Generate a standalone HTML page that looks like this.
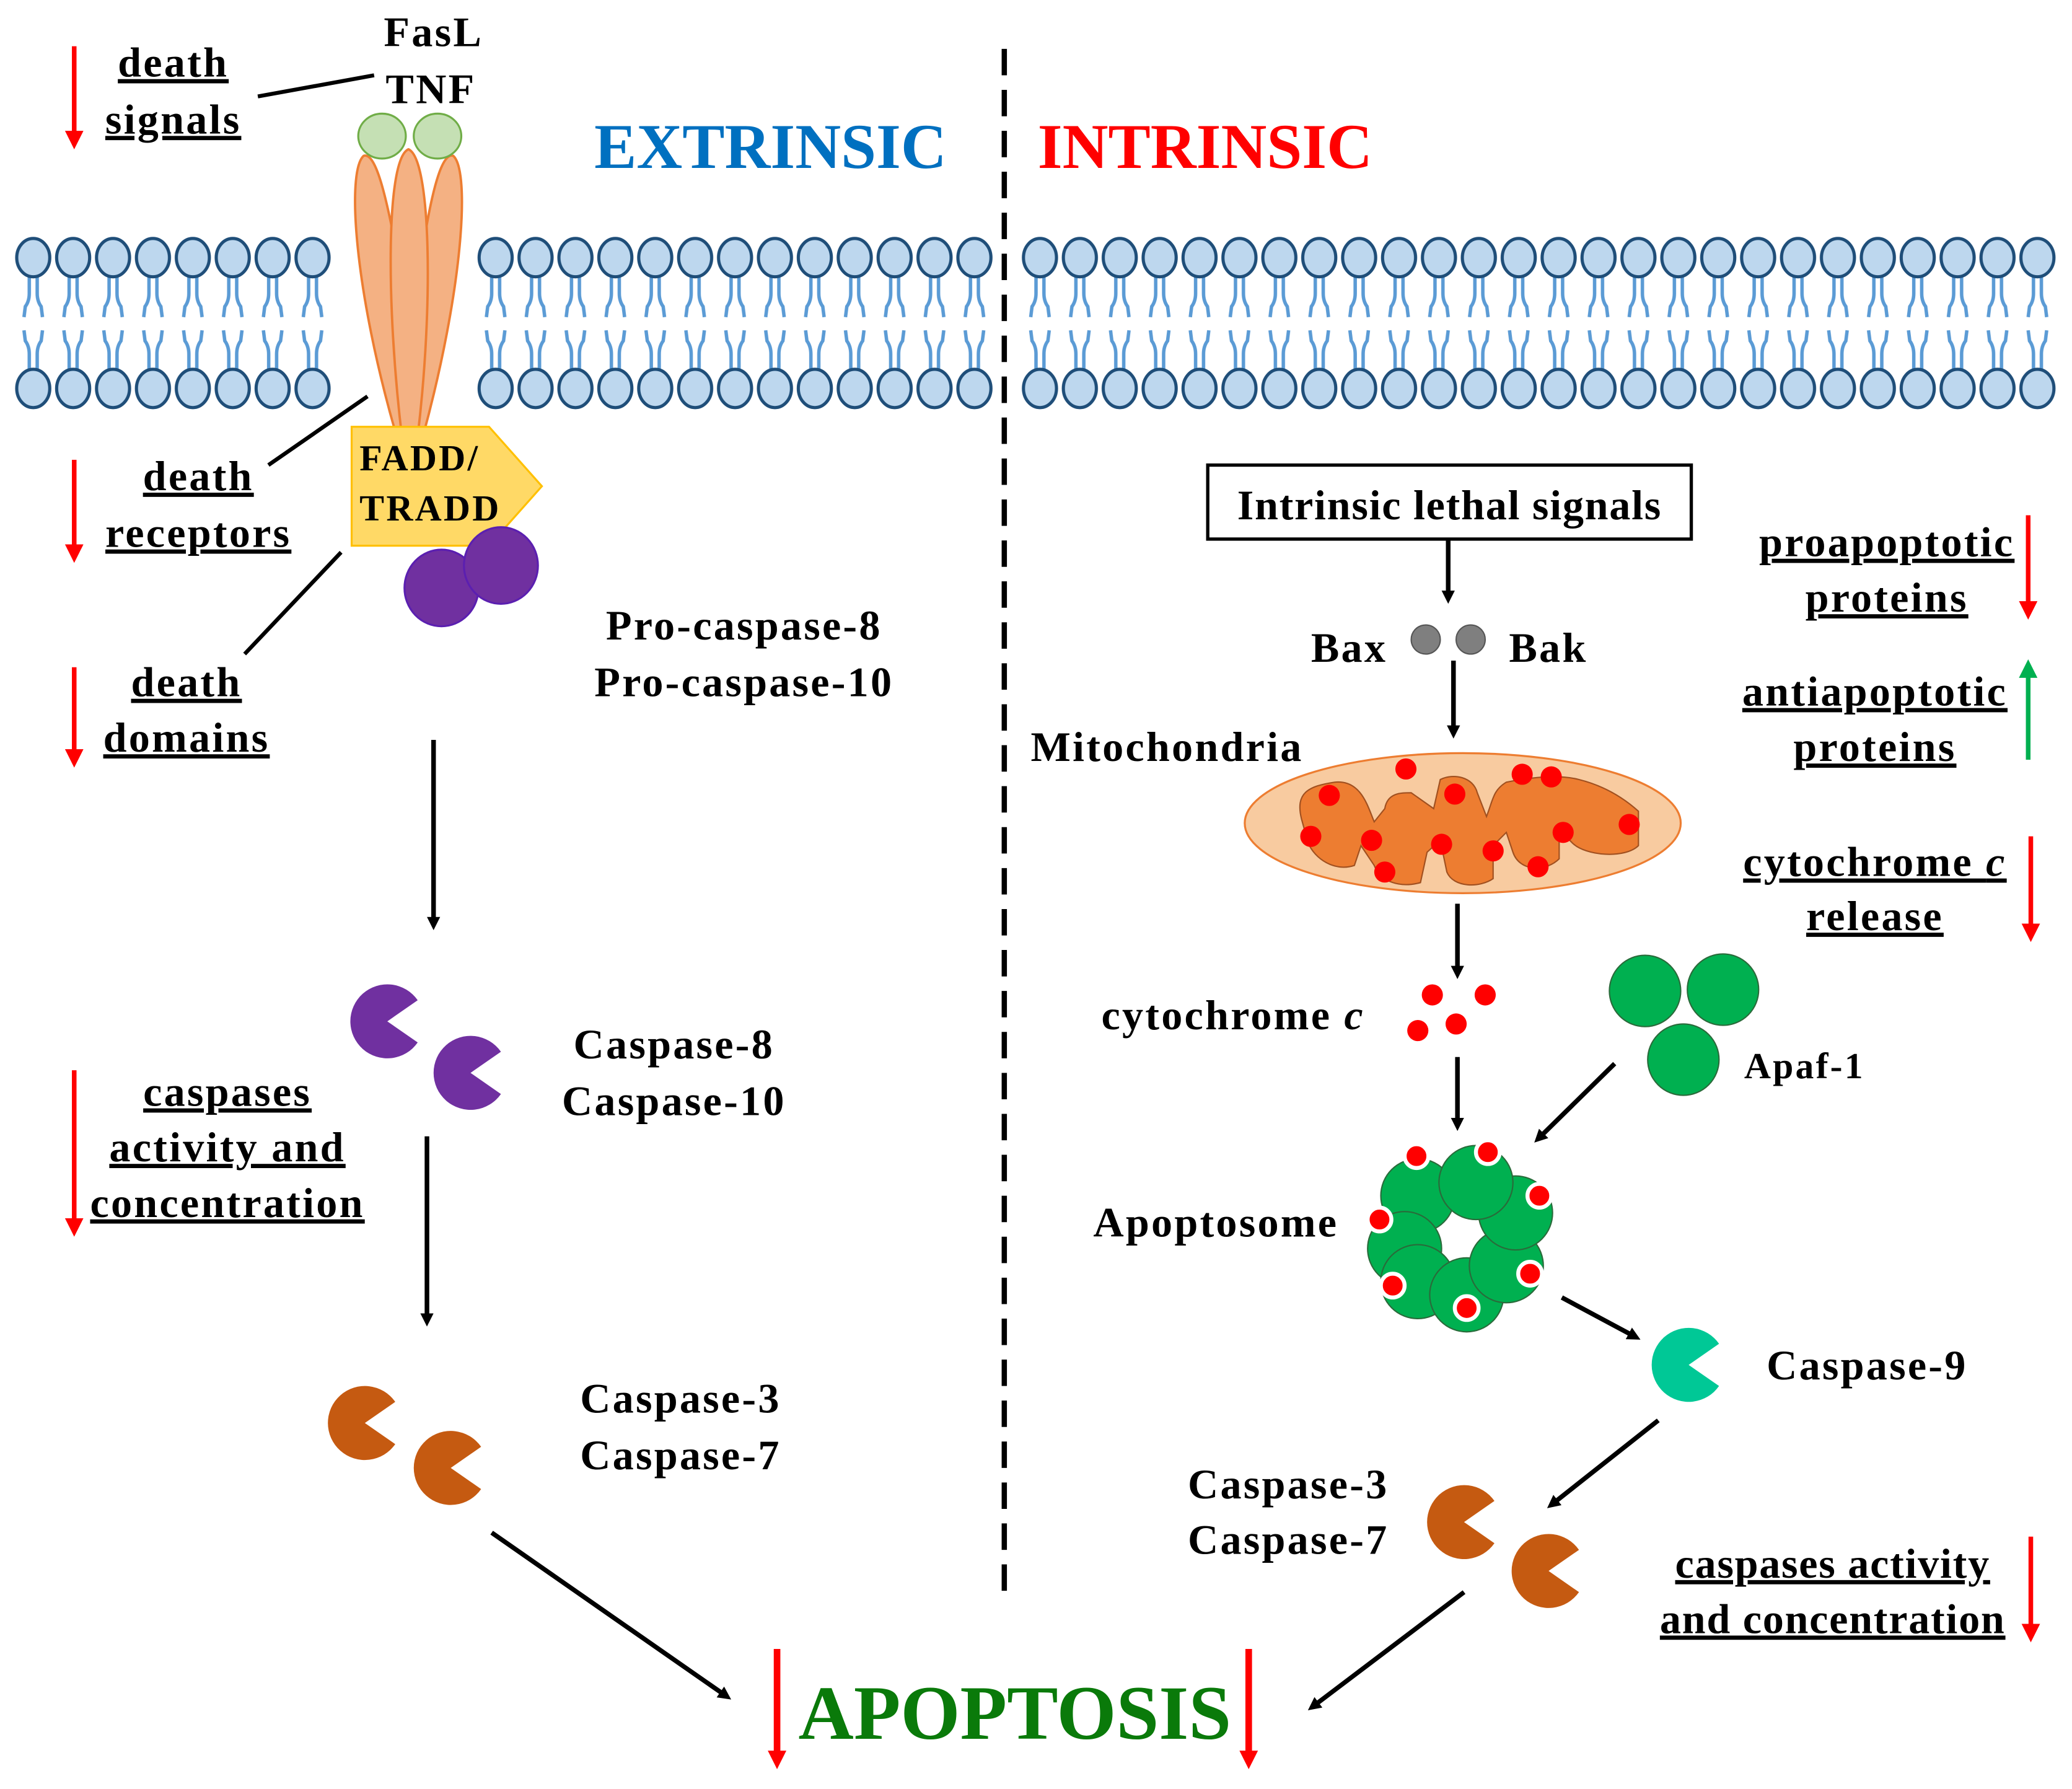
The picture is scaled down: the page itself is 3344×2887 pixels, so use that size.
<!DOCTYPE html>
<html><head><meta charset="utf-8"><style>
html,body{margin:0;padding:0;background:#fff}
svg{display:block}
text{font-family:"Liberation Serif",serif;font-weight:bold;fill:#000;letter-spacing:1.5px}
.t{letter-spacing:0}
.u{text-decoration:underline}
</style></head><body>
<svg width="3344" height="2887" viewBox="0 0 1568 1354" xmlns="http://www.w3.org/2000/svg">
<defs>
<pattern id="lip" patternUnits="userSpaceOnUse" x="0" y="0" width="30.2" height="1354">
 <g fill="none" stroke="#5b9bd5" stroke-width="2.6">
  <path d="M12 205 L12 222 Q12 228 9 232 L8 240"/>
  <path d="M18 205 L18 222 Q18 228 21 232 L22 240"/>
  <path d="M8 250 L9 258 Q12 262 12 268 L12 283"/>
  <path d="M22 250 L21 258 Q18 262 18 268 L18 283"/>
 </g>
 <ellipse cx="15" cy="195" rx="12.5" ry="14.5" fill="#bdd7ee" stroke="#1f4e79" stroke-width="2.4"/>
 <ellipse cx="15" cy="294" rx="12.5" ry="14.5" fill="#bdd7ee" stroke="#1f4e79" stroke-width="2.4"/>
</pattern>
<marker id="ab" markerWidth="10" markerHeight="10" refX="6" refY="5" orient="auto" markerUnits="userSpaceOnUse" viewBox="0 0 10 10"><path d="M0 0 L10 5 L0 10 Z" fill="#000"/></marker>
<marker id="ar" markerWidth="14" markerHeight="14" refX="7" refY="7" orient="auto" markerUnits="userSpaceOnUse" viewBox="0 0 14 14"><path d="M0 0 L14 7 L0 14 Z" fill="#ff0000"/></marker>
<marker id="ag" markerWidth="14" markerHeight="14" refX="7" refY="7" orient="auto" markerUnits="userSpaceOnUse" viewBox="0 0 14 14"><path d="M0 0 L14 7 L0 14 Z" fill="#00b050"/></marker>
</defs>

<g transform="translate(10,0)"><rect x="0" y="175" width="242" height="140" fill="url(#lip)"/></g>
<g transform="translate(360,0)"><rect x="0" y="175" width="393" height="140" fill="url(#lip)"/></g>
<g transform="translate(772,0)"><rect x="0" y="175" width="786" height="140" fill="url(#lip)"/></g>

<line x1="760" y1="37" x2="760" y2="1205" stroke="#000" stroke-width="4" stroke-dasharray="20 11"/>

<g fill="#f4b183" stroke="#ed7d31" stroke-width="1.8">
 <path d="M275 118 C262 130 268 220 300 330 L312 330 C300 220 300 160 297 175 C290 140 283 115 275 118 Z"/>
 <path d="M343 118 C356 130 350 220 320 330 L308 330 C312 220 320 160 322 175 C328 140 335 115 343 118 Z"/>
 <path d="M309 113 C292 120 292 230 304 330 L316 330 C328 230 326 120 309 113 Z"/>
</g>
<ellipse cx="289" cy="103" rx="18" ry="17" fill="#c5e0b4" stroke="#70ad47" stroke-width="1.5"/>
<ellipse cx="331" cy="103" rx="18" ry="17" fill="#c5e0b4" stroke="#70ad47" stroke-width="1.5"/>
<path d="M266 323 L370 323 L410 368 L370 413 L266 413 Z" fill="#ffd966" stroke="#ffc000" stroke-width="1.5"/>
<text x="272" y="356" font-size="28">FADD/</text>
<text x="272" y="394" font-size="28">TRADD</text>
<ellipse cx="334" cy="445" rx="28" ry="29" fill="#7030a0" stroke="#5b1fb0" stroke-width="1.5"/>
<ellipse cx="379" cy="428" rx="28" ry="29" fill="#7030a0" stroke="#5b1fb0" stroke-width="1.5"/>

<text x="328" y="35" font-size="32" text-anchor="middle">FasL</text>
<text x="326" y="78" font-size="32" text-anchor="middle">TNF</text>
<line x1="195" y1="73" x2="283" y2="57" stroke="#000" stroke-width="3"/>
<line x1="203" y1="352" x2="278" y2="300" stroke="#000" stroke-width="3"/>
<line x1="185" y1="495" x2="258" y2="418" stroke="#000" stroke-width="3"/>
<g font-size="32" text-anchor="middle">
<text x="131" y="58" class="u">death</text>
<text x="131" y="101" class="u">signals</text>
<text x="150" y="371" class="u">death</text>
<text x="150" y="414" class="u">receptors</text>
<text x="141" y="527" class="u">death</text>
<text x="141" y="569" class="u">domains</text>
<text x="172" y="837" class="u">caspases</text>
<text x="172" y="879" class="u">activity and</text>
<text x="172" y="921" class="u">concentration</text>
</g>
<g stroke="#ff0000" stroke-width="3.5" marker-end="url(#ar)">
<line x1="56" y1="35" x2="56" y2="106"/>
<line x1="56" y1="348" x2="56" y2="419"/>
<line x1="56" y1="505" x2="56" y2="574"/>
<line x1="56" y1="810" x2="56" y2="929"/>
</g>

<text x="583" y="127" font-size="48" class="t" style="fill:#0070c0" text-anchor="middle">EXTRINSIC</text>
<text x="912" y="127" font-size="48" class="t" style="fill:#ff0000" text-anchor="middle">INTRINSIC</text>

<g font-size="32" text-anchor="middle">
<text x="563" y="484">Pro-caspase-8</text>
<text x="563" y="527">Pro-caspase-10</text>
<text x="510" y="801">Caspase-8</text>
<text x="510" y="844">Caspase-10</text>
<text x="515" y="1069">Caspase-3</text>
<text x="515" y="1112">Caspase-7</text>
</g>

<g stroke="#000" stroke-width="3.5" marker-end="url(#ab)">
<line x1="328" y1="560" x2="328" y2="700"/>
<line x1="323" y1="860" x2="323" y2="1000"/>
<line x1="372" y1="1160" x2="550" y2="1284"/>
<line x1="1108" y1="1205" x2="993" y2="1292"/>
<line x1="1096" y1="409" x2="1096" y2="453"/>
<line x1="1100" y1="500" x2="1100" y2="555"/>
<line x1="1103" y1="684" x2="1103" y2="737"/>
<line x1="1103" y1="800" x2="1103" y2="852"/>
<line x1="1222" y1="805" x2="1164" y2="862"/>
<line x1="1182" y1="982" x2="1238" y2="1012"/>
<line x1="1255" y1="1075" x2="1174" y2="1139"/>
</g>

<g>
<path d="M293 773 L316 757 A28 28 0 1 0 316 789 Z" fill="#7030a0"/>
<path d="M356 812 L379 796 A28 28 0 1 0 379 828 Z" fill="#7030a0"/>
<path d="M276 1077 L299 1061 A28 28 0 1 0 299 1093 Z" fill="#c55a11"/>
<path d="M341 1111 L364 1095 A28 28 0 1 0 364 1127 Z" fill="#c55a11"/>
<path d="M1108 1152 L1131 1136 A28 28 0 1 0 1131 1168 Z" fill="#c55a11"/>
<path d="M1172 1189 L1195 1173 A28 28 0 1 0 1195 1205 Z" fill="#c55a11"/>
<path d="M1278 1033 L1301 1017 A28 28 0 1 0 1301 1049 Z" fill="#00c896"/>
</g>

<text x="768" y="1316" font-size="58" class="t" style="fill:#0a7a0a" text-anchor="middle">APOPTOSIS</text>
<g stroke="#ff0000" stroke-width="5" marker-end="url(#ar)">
<line x1="588" y1="1248" x2="588" y2="1332"/>
<line x1="945" y1="1248" x2="945" y2="1332"/>
</g>

<rect x="914" y="352" width="366" height="56" fill="#fff" stroke="#000" stroke-width="2.5"/>
<text x="1097" y="393" font-size="32" text-anchor="middle" style="letter-spacing:0.8px">Intrinsic lethal signals</text>
<text x="1050" y="501" font-size="32" text-anchor="end">Bax</text>
<text x="1142" y="501" font-size="32">Bak</text>
<circle cx="1079" cy="484" r="11" fill="#7f7f7f" stroke="#555" stroke-width="1"/>
<circle cx="1113" cy="484" r="11" fill="#7f7f7f" stroke="#555" stroke-width="1"/>
<text x="780" y="576" font-size="32">Mitochondria</text>

<ellipse cx="1107" cy="623" rx="165" ry="53" fill="#f8cba0" stroke="#ed7d31" stroke-width="1.5"/>
<path d="M985 620 C980 600 990 595 1010 592 C1030 590 1035 610 1040 622 L1048 612 C1050 600 1060 600 1068 600 L1085 612 L1090 590 C1100 585 1115 588 1118 600 L1125 618 C1130 605 1130 598 1140 592 C1160 588 1180 586 1195 590 C1215 595 1230 605 1240 614 L1240 640 C1230 650 1200 648 1190 638 L1180 628 L1180 650 C1170 660 1150 660 1145 645 L1140 630 L1130 640 L1130 665 C1120 672 1100 672 1095 660 L1090 636 L1080 645 L1075 668 C1060 672 1045 668 1040 655 L1030 640 L1025 655 C1010 660 995 650 990 638 Z" fill="#ed7d31" stroke="#a05020" stroke-width="1"/>
<g fill="#ff0000">
<circle cx="1064" cy="582" r="8"/><circle cx="1152" cy="586" r="8"/><circle cx="1174" cy="588" r="8"/>
<circle cx="1006" cy="602" r="8"/><circle cx="1101" cy="601" r="8"/><circle cx="1233" cy="624" r="8"/>
<circle cx="992" cy="633" r="8"/><circle cx="1038" cy="636" r="8"/><circle cx="1091" cy="639" r="8"/>
<circle cx="1130" cy="644" r="8"/><circle cx="1183" cy="630" r="8"/><circle cx="1048" cy="660" r="8"/><circle cx="1164" cy="656" r="8"/>
</g>

<text x="1033" y="779" font-size="32" text-anchor="end">cytochrome <tspan font-style="italic">c</tspan></text>
<g fill="#ff0000">
<circle cx="1084" cy="753" r="8"/><circle cx="1124" cy="753" r="8"/><circle cx="1073" cy="780" r="8"/><circle cx="1102" cy="775" r="8"/>
</g>
<g fill="#00b050" stroke="#2a6a3a" stroke-width="1">
<circle cx="1245" cy="750" r="27"/><circle cx="1304" cy="749" r="27"/><circle cx="1274" cy="802" r="27"/>
</g>
<text x="1320" y="816" font-size="28">Apaf-1</text>

<g fill="#00b050" stroke="#2a6a3a" stroke-width="1">
<circle cx="1073" cy="905" r="28"/>
<circle cx="1063" cy="945" r="28"/>
<circle cx="1073" cy="970" r="28"/>
<circle cx="1110" cy="980" r="28"/>
<circle cx="1140" cy="958" r="28"/>
<circle cx="1147" cy="918" r="28"/>
<circle cx="1117" cy="895" r="28"/>
</g>
<g fill="#ff0000" stroke="#fff" stroke-width="3">
<circle cx="1072" cy="875" r="9"/><circle cx="1126" cy="872" r="9"/><circle cx="1165" cy="905" r="9"/>
<circle cx="1044" cy="923" r="9"/><circle cx="1054" cy="973" r="9"/><circle cx="1110" cy="990" r="9"/><circle cx="1158" cy="964" r="9"/>
</g>
<text x="1013" y="936" font-size="32" text-anchor="end">Apoptosome</text>
<text x="1337" y="1044" font-size="32">Caspase-9</text>
<text x="975" y="1134" font-size="32" text-anchor="middle">Caspase-3</text>
<text x="975" y="1176" font-size="32" text-anchor="middle">Caspase-7</text>

<g font-size="32" text-anchor="middle">
<text x="1428" y="421" class="u">proapoptotic</text>
<text x="1428" y="463" class="u">proteins</text>
<text x="1419" y="534" class="u">antiapoptotic</text>
<text x="1419" y="576" class="u">proteins</text>
<text x="1419" y="663" class="u">cytochrome <tspan font-style="italic">c</tspan></text>
<text x="1419" y="704" class="u">release</text>
<text x="1387" y="1194" class="u" style="letter-spacing:0.8px">caspases activity</text>
<text x="1387" y="1236" class="u" style="letter-spacing:0.8px">and concentration</text>
</g>
<g stroke="#ff0000" stroke-width="3.5" marker-end="url(#ar)">
<line x1="1535" y1="390" x2="1535" y2="462"/>
<line x1="1537" y1="633" x2="1537" y2="706"/>
<line x1="1537" y1="1163" x2="1537" y2="1236"/>
</g>
<line x1="1535" y1="575" x2="1535" y2="506" stroke="#00b050" stroke-width="3.5" marker-end="url(#ag)"/>
</svg>
</body></html>
